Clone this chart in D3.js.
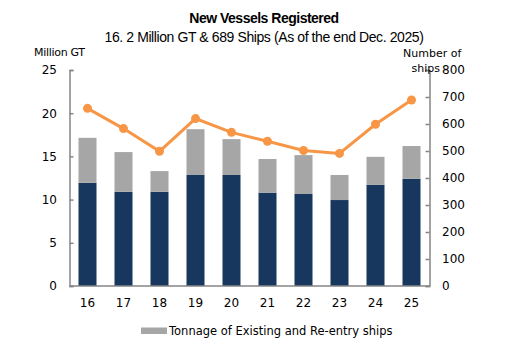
<!DOCTYPE html>
<html><head><meta charset="utf-8">
<script src="https://cdn.jsdelivr.net/npm/d3@7"></script>
<style>body{margin:0;background:#fff}svg{display:block}</style>
</head><body>
<svg id="c" width="516" height="353"></svg>
<script>
const years = ["16","17","18","19","20","21","22","23","24","25"];
const newBuild = [11.95, 10.9, 10.9, 12.85, 12.85, 10.8, 10.65, 9.95, 11.7, 12.4];
const existing = [5.2, 4.6, 2.4, 5.3, 4.15, 3.9, 4.5, 2.9, 3.25, 3.8];
const ships = [658, 583, 499, 620, 569, 536, 502, 491, 599, 689];
const leftTicks = [0,5,10,15,20,25];
const rightTicks = [0,100,200,300,400,500,600,700,800];

const svg = d3.select("#c");
const L = 69.5, R = 429.5, T = 70, B = 286;
const x = d3.scaleBand().domain(years).range([L, R]).paddingInner(0.5).paddingOuter(0.25);
const yL = d3.scaleLinear().domain([0,25]).range([B,T]);
const yR = d3.scaleLinear().domain([0,800]).range([B,T]);
const font = "'DejaVu Sans', Verdana, sans-serif";

// bars
const g = svg.append("g");
g.selectAll(".nb").data(years).join("rect")
  .attr("x", d => x(d)).attr("width", x.bandwidth())
  .attr("y", (d,i) => yL(newBuild[i])).attr("height", (d,i) => B - yL(newBuild[i]))
  .attr("fill", "#17375E");
g.selectAll(".ex").data(years).join("rect")
  .attr("x", d => x(d)).attr("width", x.bandwidth())
  .attr("y", (d,i) => yL(newBuild[i] + existing[i])).attr("height", (d,i) => yL(newBuild[i]) - yL(newBuild[i] + existing[i]))
  .attr("fill", "#A6A6A6");

// axes
const axL = svg.append("g").attr("transform", `translate(${L},0)`)
  .call(d3.axisRight(yL).tickValues(leftTicks).tickSize(4).tickFormat(""));
const axR = svg.append("g").attr("transform", `translate(${R},0)`)
  .call(d3.axisLeft(yR).tickValues(rightTicks).tickSize(4).tickFormat(""));
[axL, axR].forEach(a => { a.selectAll("path,line").attr("stroke", "#868686").attr("stroke-width", 1.5); });
svg.append("line").attr("x1", L).attr("x2", R).attr("y1", B).attr("y2", B).attr("stroke", "#868686").attr("stroke-width", 1.5);

svg.append("g").selectAll("text").data(leftTicks).join("text")
  .attr("x", 57).attr("y", d => yL(d)).attr("dy", "0.36em").attr("text-anchor", "end")
  .attr("font-family", font).attr("font-size", 12).attr("fill", "#000").text(d => d);
svg.append("g").selectAll("text").data(rightTicks).join("text")
  .attr("x", 442).attr("y", d => yR(d)).attr("dy", "0.36em").attr("text-anchor", "start")
  .attr("font-family", font).attr("font-size", 12).attr("fill", "#000").text(d => d);
svg.append("g").selectAll("text").data(years).join("text")
  .attr("x", d => x(d) + x.bandwidth()/2).attr("y", 303).attr("dy", "0.36em").attr("text-anchor", "middle")
  .attr("font-family", font).attr("font-size", 12).attr("fill", "#000").text(d => d);

// line
const lineGen = d3.line().x((d,i) => x(years[i]) + x.bandwidth()/2).y(d => yR(d));
svg.append("path").datum(ships).attr("d", lineGen).attr("fill", "none")
  .attr("stroke", "#F79646").attr("stroke-width", 3);
svg.append("g").selectAll("circle").data(ships).join("circle")
  .attr("cx", (d,i) => x(years[i]) + x.bandwidth()/2).attr("cy", d => yR(d)).attr("r", 4.5)
  .attr("fill", "#F79646");

// titles
svg.append("text").attr("x", 264).attr("y", 23).attr("text-anchor", "middle")
  .attr("font-family", "'Liberation Sans', Arial, sans-serif").attr("font-weight", "bold").attr("font-size", 14)
  .attr("letter-spacing", "-0.5").text("New Vessels Registered");
svg.append("text").attr("x", 264).attr("y", 42).attr("text-anchor", "middle")
  .attr("font-family", "'Liberation Sans', Arial, sans-serif").attr("font-size", 14)
  .attr("letter-spacing", "-0.4").text("16. 2 Million GT & 689 Ships (As of the end Dec. 2025)");
svg.append("text").attr("x", 34).attr("y", 56)
  .attr("font-family", font).attr("font-size", 11).attr("letter-spacing", "-0.3").text("Million GT");
svg.append("text").attr("x", 403).attr("y", 57)
  .attr("font-family", font).attr("font-size", 11).text("Number of");
svg.append("text").attr("x", 440).attr("y", 72).attr("text-anchor", "end")
  .attr("font-family", font).attr("font-size", 11).text("ships");

// legend
svg.append("rect").attr("x", 141).attr("y", 327.5).attr("width", 26).attr("height", 6.5).attr("fill", "#A6A6A6");
svg.append("text").attr("x", 169).attr("y", 331).attr("dy", "0.36em")
  .attr("font-family", font).attr("font-size", 11.5).text("Tonnage of Existing and Re-entry ships");
</script>
</body></html>
